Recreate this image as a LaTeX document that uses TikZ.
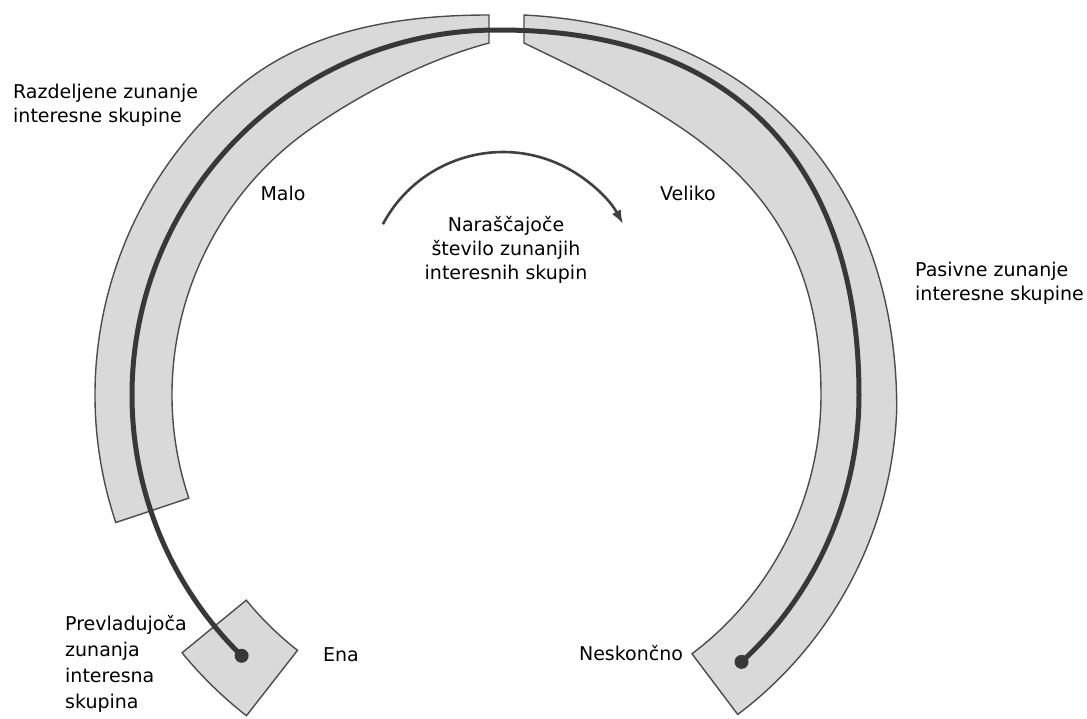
\documentclass[tikz,border=0pt]{standalone}
\usepackage{fontspec}
\setmainfont{DejaVu Sans}
\usetikzlibrary{arrows.meta}

\tikzset{
  band/.style={fill=black!15, draw=black!70, line width=1.4pt},
  lbl/.style={inner sep=0pt, font=\fontsize{19}{24}\selectfont, align=left},
}

\begin{document}
\begin{tikzpicture}[x=1pt, y=1pt]
  \useasboundingbox (-497,-323) rectangle (590,395);
  \coordinate (c) at (0,0);
  \coordinate (one) at (225.6:365);
  \coordinate (inf) at (-47.5:362);

  % left band (divided)
  \draw[band] (198.5:402) arc[start angle=198.5, end angle=130, radius=402pt]
    .. controls (-189.9,365.5) and (-97,380) .. (-8,380) -- (-8,352)
    .. controls (-66,336.5) and (-131.7,304.5) .. (125:325)
    arc[start angle=125, end angle=198.5, radius=325pt] -- cycle;
  % right band (passive)
  \draw[band] (27,380) .. controls (267.7,367.4) and (399.8,206) .. (-2:400)
    arc[start angle=-2, end angle=-53, radius=400pt] -- (-53:324)
    arc[start angle=-53, end angle=0, radius=324pt]
    .. controls (324,210) and (189.8,273.2) .. (27,352) -- cycle;
  % dominant one
  \draw[band] (219.3:407) arc[start angle=219.3, end angle=232, radius=407pt]
    -- (232:324) arc[start angle=232, end angle=219.3, radius=324pt] -- cycle;

  % scale line
  \draw[line width=5pt, black!78] (one) arc[start angle=225.6, end angle=89.5, radius=365pt]
    .. controls (243,365) and (362,225) .. (0:362)
    arc[start angle=0, end angle=-47.5, radius=362pt];
  \fill[black!78] (one) circle (7pt) (inf) circle (7pt);

  % increasing number
  \draw[line width=2.6pt, black!75, -{Latex[length=14pt,width=10pt]}]
    (-114.1,170.8) arc[start angle=152, end angle=28, radius=136pt];

  \node[lbl, anchor=west] (razd) at (-484,290) {Razdeljene zunanje\\interesne skupine};
  \node[lbl] (malo) at (-214,202) {Malo};
  \node[lbl] (veliko) at (191,202) {Veliko};
  \node[lbl, align=center] (nar) at (9,145) {Naraščajoče\\število zunanjih\\interesnih skupin};
  \node[lbl, anchor=west] (pas) at (418,111.5) {Pasivne zunanje\\interesne skupine};
  \node[lbl, anchor=west, font=\fontsize{19}{26}\selectfont] (prev) at (-432,-269) {Prevladujoča\\zunanja\\interesna\\skupina};
  \node[lbl] (ena) at (-156,-260) {Ena};
  \node[lbl] (nesk) at (134,-258) {Neskončno};
\end{tikzpicture}
\end{document}
